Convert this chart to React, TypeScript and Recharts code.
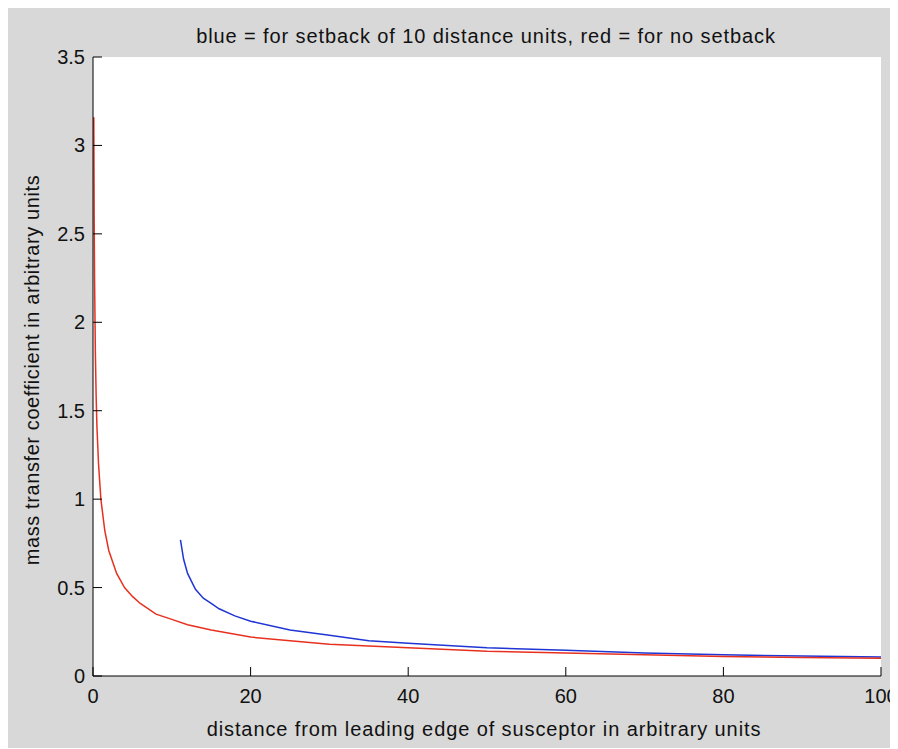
import { LineChart, Line, XAxis, YAxis, CartesianGrid } from 'recharts';

// values
const redX = [0.1, 0.15, 0.2, 0.3, 0.4, 0.5, 0.7, 1, 1.5, 2, 3, 4, 5, 6, 8, 10, 12, 15, 20, 25, 30, 40, 50, 60, 70, 80, 90, 100];
const redY = [3.16, 2.58, 2.24, 1.83, 1.58, 1.41, 1.2, 1.0, 0.82, 0.71, 0.58, 0.5, 0.45, 0.41, 0.35, 0.32, 0.29, 0.26, 0.22, 0.2, 0.18, 0.16, 0.14, 0.13, 0.12, 0.11, 0.105, 0.1];

const blueX = [11.1, 11.5, 12, 13, 14, 15, 16, 18, 20, 25, 30, 35, 40, 50, 60, 70, 80, 90, 100];
const blueY = [0.77, 0.66, 0.58, 0.49, 0.44, 0.41, 0.38, 0.34, 0.31, 0.26, 0.23, 0.2, 0.185, 0.16, 0.145, 0.13, 0.12, 0.113, 0.107];

const xTicks = [0, 20, 40, 60, 80, 100];
const yTicks = [0, 0.5, 1, 1.5, 2, 2.5, 3, 3.5];

const TITLE = 'blue = for setback of 10 distance units, red = for no setback';
const X_LABEL = 'distance from leading edge of susceptor in arbitrary units';
const Y_LABEL = 'mass transfer coefficient in arbitrary units';

const FONT = '"Liberation Sans", Arial, sans-serif';
const TICK_LEN = 9;

const redData = redX.map((x, i) => ({ x, y: redY[i] }));
const blueData = blueX.map((x, i) => ({ x, y: blueY[i] }));

interface TickProps {
  x?: number;
  y?: number;
  payload?: { value: number };
}

const BottomTick = ({ x = 0, y = 0, payload }: TickProps) => (
  <g>
    <line x1={x} y1={y} x2={x} y2={y - TICK_LEN} stroke="#000" />
    <text x={x} y={y + 27} textAnchor="middle" fontSize={20} fill="#111" fontFamily={FONT}>
      {payload?.value}
    </text>
  </g>
);

const LeftTick = ({ x = 0, y = 0, payload }: TickProps) => (
  <g>
    <line x1={x} y1={y} x2={x + TICK_LEN} y2={y} stroke="#000" />
    <text x={x - 8} y={y + 7} textAnchor="end" fontSize={20} fill="#111" fontFamily={FONT}>
      {payload?.value}
    </text>
  </g>
);

const TopTick = ({ x = 0, y = 0 }: TickProps) => (
  <line x1={x} y1={y} x2={x} y2={y + TICK_LEN} stroke="#000" />
);

const RightTick = ({ x = 0, y = 0 }: TickProps) => (
  <line x1={x} y1={y} x2={x - TICK_LEN} y2={y} stroke="#000" />
);

const textStyle = {
  position: 'absolute' as const,
  textAlign: 'center' as const,
  fontSize: 20,
  lineHeight: '24px',
  color: '#111',
  letterSpacing: 0.9,
  whiteSpace: 'nowrap' as const,
};

export default function App() {
  return (
    <div style={{ position: 'relative', width: 890, height: 740, background: '#d8d8d8', fontFamily: FONT }}>
      <LineChart
        width={890}
        height={740}
        margin={{ top: 49, right: 17, bottom: 42, left: 25 }}
        style={{ position: 'absolute', left: 0, top: 0 }}
      >
        <CartesianGrid horizontal={false} vertical={false} fill="#fff" />
        <XAxis
          dataKey="x"
          type="number"
          domain={[0, 100]}
          ticks={xTicks}
          height={30}
          tickSize={0}
          tickMargin={0}
          tick={<BottomTick />}
          axisLine={{ stroke: '#000' }}
          allowDataOverflow
        />
        <XAxis
          xAxisId="top"
          orientation="top"
          type="number"
          domain={[0, 100]}
          ticks={xTicks}
          height={0}
          tickSize={0}
          tickMargin={0}
          tick={<TopTick />}
          axisLine={{ stroke: '#000' }}
        />
        <YAxis
          type="number"
          domain={[0, 3.5]}
          ticks={yTicks}
          width={60}
          tickSize={0}
          tickMargin={0}
          tick={<LeftTick />}
          axisLine={{ stroke: '#000' }}
          allowDataOverflow
        />
        <YAxis
          yAxisId="right"
          orientation="right"
          type="number"
          domain={[0, 3.5]}
          ticks={yTicks}
          width={0}
          tickSize={0}
          tickMargin={0}
          tick={<RightTick />}
          axisLine={{ stroke: '#000' }}
        />
        <Line
          data={blueData}
          dataKey="y"
          type="linear"
          stroke="#1f35d4"
          strokeWidth={1.5}
          dot={false}
          isAnimationActive={false}
        />
        <Line
          data={redData}
          dataKey="y"
          type="linear"
          stroke="#e8301f"
          strokeWidth={1.5}
          dot={false}
          isAnimationActive={false}
        />
      </LineChart>
      <div style={{ ...textStyle, left: 0, top: 16, width: 956 }}>{TITLE}</div>
      <div style={{ ...textStyle, left: 0, top: 709, width: 952 }}>{X_LABEL}</div>
      <div
        style={{
          ...textStyle,
          left: 24 - 250,
          top: 362 - 12,
          width: 500,
          height: 24,
          transform: 'rotate(-90deg)',
          letterSpacing: 0.6,
        }}
      >
        {Y_LABEL}
      </div>
    </div>
  );
}
